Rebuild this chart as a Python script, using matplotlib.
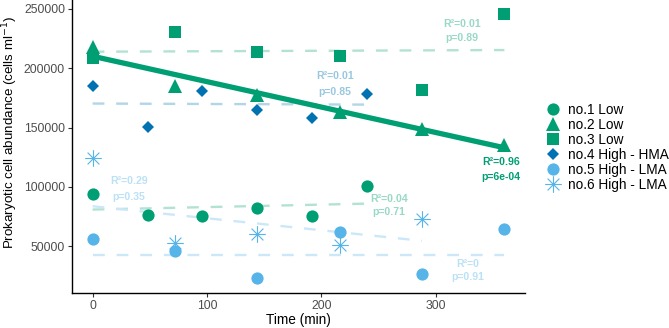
import matplotlib
matplotlib.use("Agg")
import matplotlib.pyplot as plt
from matplotlib.path import Path
from matplotlib.lines import Line2D

plt.rcParams['font.family'] = ['Liberation Sans', 'DejaVu Sans']

# ---------------- data ----------------
t1 = [0, 48, 96, 144, 192, 240]
no1 = [93800, 76300, 75500, 81900, 75500, 101000]

t2 = [0, 72, 144, 216, 288, 360]
no2 = [218000, 184700, 177200, 162700, 148600, 135500]

t3 = [0, 72, 144, 216, 288, 360]
no3 = [208300, 230500, 213800, 210500, 181300, 245200]

t4 = [0, 48, 96, 144, 192, 240]
no4 = [184700, 150500, 180500, 164400, 157700, 178600]

t5 = [0, 72, 144, 216, 288, 360]
no5 = [56300, 46300, 23600, 62500, 26900, 64700]

t6 = [0, 72, 144, 216, 288]
no6 = [124200, 52800, 60300, 50800, 72700]

series_labels = ["no.1 Low", "no.2 Low", "no.3 Low",
                 "no.4 High - HMA", "no.5 High - LMA", "no.6 High - LMA"]

# regression lines (start/end)
fit_x = [[0, 240], [0, 360], [0, 360], [0, 240], [0, 360], [0, 288]]
fit_y = [[81000, 86000], [210000, 133000], [213800, 215200],
         [170200, 169300], [43000, 43000], [83800, 54700]]

r2_text = ["R²=0.04", "R²=0.96", "R²=0.01", "R²=0.01", "R²=0", "R²=0.29"]
p_text = ["p=0.71", "p=6e-04", "p=0.89", "p=0.85", "p=0.91", "p=0.35"]
lab_x = [259, 357, 323, 212, 328, 31.5]
lab_y_r2 = [90200, 120800, 237500, 193000, 35250, 105000]
lab_y_p = [78600, 108800, 225500, 180000, 24200, 91700]

x_ticks = [0, 100, 200, 300]
y_ticks = [50000, 100000, 150000, 200000, 250000]

# ---------------- style ----------------
GREEN = "#009E73"
DBLUE = "#0072B2"
LBLUE = "#56B4E9"
colors = [GREEN, GREEN, GREEN, DBLUE, LBLUE, LBLUE]
line_colors = ["#b3e2d5", GREEN, "#b3e2d5", "#b2d5e8", "#cce8f8", "#cce8f8"]
text_colors = ["#99d8c7", GREEN, "#99d8c7", "#99c7e0", "#bbe1f6", "#bbe1f6"]

ast_verts = [(-1, 0), (1, 0), (0, -1), (0, 1),
             (-0.707, -0.707), (0.707, 0.707), (-0.707, 0.707), (0.707, -0.707)]
ast_codes = [Path.MOVETO, Path.LINETO] * 4
asterisk = Path(ast_verts, ast_codes)

marker_specs = [
    dict(marker="o", ms=8.8),
    dict(marker="^", ms=10.5),
    dict(marker="s", ms=8.4),
    dict(marker="D", ms=6.2),
    dict(marker="o", ms=8.8),
    dict(marker=asterisk, ms=12, mfc="none", mew=0.8),
]

xs = [t1, t2, t3, t4, t5, t6]
ys = [no1, no2, no3, no4, no5, no6]

fig = plt.figure(figsize=(6.69, 3.28), dpi=100)
ax = fig.add_axes([72 / 669, 1 - 293 / 328, (525 - 72) / 669, 293 / 328 - 0.0])

# fit lines
for i in range(6):
    if i == 1:
        ax.plot(fit_x[i], fit_y[i], color=line_colors[i], lw=3.8,
                solid_capstyle="butt", zorder=3)
    else:
        ax.plot(fit_x[i], fit_y[i], color=line_colors[i], lw=1.7,
                linestyle=(0, (5, 5)), zorder=1)

# points
handles = []
for i in range(6):
    spec = dict(marker_specs[i])
    m = spec.pop("marker")
    ms = spec.pop("ms")
    ax.plot(xs[i], ys[i], linestyle="none", marker=m, markersize=ms,
            color=colors[i], markeredgecolor=colors[i],
            markerfacecolor=spec.get("mfc", colors[i]),
            markeredgewidth=spec.get("mew", 0), zorder=4)
    handles.append(Line2D([], [], linestyle="none", marker=m, markersize=ms,
                          color=colors[i], markeredgecolor=colors[i],
                          markerfacecolor=spec.get("mfc", colors[i]),
                          markeredgewidth=spec.get("mew", 0)))

# R2 / p labels
for i in range(6):
    ax.text(lab_x[i], lab_y_r2[i], r2_text[i], color=text_colors[i],
            fontsize=7.6, fontweight="bold", ha="center", va="center", zorder=5)
    ax.text(lab_x[i], lab_y_p[i], p_text[i], color=text_colors[i],
            fontsize=7.6, fontweight="bold", ha="center", va="center", zorder=5)

ax.set_xlim(-18, 378)
ax.set_ylim(10800, 257300)
ax.set_xticks(x_ticks)
ax.set_yticks(y_ticks)
ax.set_yticklabels([str(v) for v in y_ticks])

for s in ["top", "right"]:
    ax.spines[s].set_visible(False)
for s in ["left", "bottom"]:
    ax.spines[s].set_linewidth(1.0)
    ax.spines[s].set_color("black")
ax.tick_params(axis="both", direction="out", length=3, width=0.8,
               color="#333333", labelcolor="#4d4d4d", labelsize=8.8, pad=2)

ax.set_xlabel("Time (min)", fontsize=9.8, color="black", labelpad=1)
ax.set_ylabel("Prokaryotic cell abundance (cells ml$^{-1}$)", fontsize=9.6,
              color="black")
ax.yaxis.set_label_coords(-0.114, 0.55)

fig.legend(handles, series_labels, loc="center left",
           bbox_to_anchor=(546 / 669, 1 - 147.5 / 328),
           bbox_transform=fig.transFigure, frameon=False, fontsize=9.8,
           handlelength=1.0, handletextpad=0.6, labelspacing=0.08,
           borderpad=0, borderaxespad=0)

fig.savefig("out.png", dpi=100)
